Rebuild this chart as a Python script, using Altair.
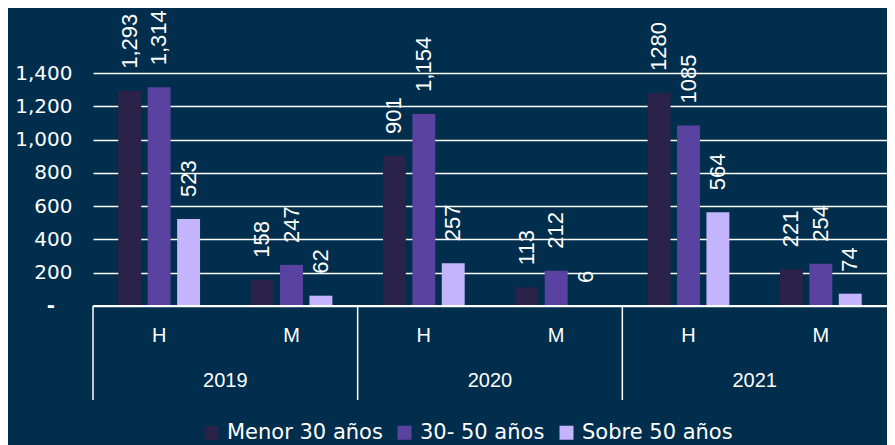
import altair as alt
import pandas as pd

years = ["2019", "2019", "2020", "2020", "2021", "2021"]
genders = ["H", "M", "H", "M", "H", "M"]
series = ["Menor 30 años", "30- 50 años", "Sobre 50 años"]
menor = [1293, 158, 901, 113, 1280, 221]
medio = [1314, 247, 1154, 212, 1085, 254]
sobre = [523, 62, 257, 6, 564, 74]
menor_lbl = ["1,293", "158", "901", "113", "1280", "221"]
medio_lbl = ["1,314", "247", "1,154", "212", "1085", "254"]
sobre_lbl = ["523", "62", "257", "6", "564", "74"]
y_ticks = [0, 200, 400, 600, 800, 1000, 1200, 1400]
zero_lbl = ["-"]
colors = ["#2a2249", "#5a42a0", "#c4b4fc"]

cats = [f"{y}-{g}" for y, g in zip(years, genders)]
rows = []
for s, vals, lbls in zip(series, [menor, medio, sobre], [menor_lbl, medio_lbl, sobre_lbl]):
    for c, g, v, l in zip(cats, genders, vals, lbls):
        rows.append({"cat": c, "genero": g, "serie": s, "valor": v, "label": l})
df = pd.DataFrame(rows)
cat_df = pd.DataFrame({"cat": cats, "genero": genders})
sep_df = pd.DataFrame({"cat": [c for c in cats if c.endswith("-H")]})
year_df = pd.DataFrame({"cat": [c for c in cats if c.endswith("-H")],
                        "anio": [y for y, g in zip(years, genders) if g == "H"]})
zero_df = pd.DataFrame({"valor": [y_ticks[0]], "label": zero_lbl})

W, H = 794, 233
xscale = alt.Scale(domain=cats, paddingInner=0, paddingOuter=0)
x = alt.X("cat:N", sort=cats, scale=xscale, axis=None)
xoff = alt.XOffset("serie:N", sort=series,
                   scale=alt.Scale(domain=series, paddingInner=0.22, paddingOuter=0.86))
y = alt.Y("valor:Q", scale=alt.Scale(domain=[0, 1400], nice=False),
          axis=alt.Axis(values=y_ticks, title=None, domain=False, ticks=False,
                        grid=True, gridColor="white", gridWidth=1.5,
                        labelOverlap=False,
                        labelColor="white", labelFont="DejaVu Sans", labelFontSize=20,
                        labelPadding=21,
                        labelExpr="datum.value == 0 ? '' : format(datum.value, ',')"))

bars = alt.Chart(df).mark_bar().encode(
    x=x, xOffset=xoff, y=y,
    color=alt.Color("serie:N", sort=series,
                    scale=alt.Scale(domain=series, range=colors),
                    legend=alt.Legend(title=None, orient="none", direction="horizontal",
                                      legendX=108, legendY=349,
                                      symbolType="square", symbolSize=196,
                                      symbolStrokeWidth=0, labelOffset=5,
                                      columnPadding=11, labelLimit=300,
                                      labelColor="white", labelFont="DejaVu Sans",
                                      labelFontSize=21)),
)

labels = alt.Chart(df).mark_text(angle=270, align="left", baseline="middle", dx=22,
                                 color="white", font="Liberation Sans", fontSize=22).encode(
    x=x, xOffset=xoff, y=y, text="label:N")

zero_text = alt.Chart(zero_df).mark_text(color="white", font="DejaVu Sans", fontSize=20,
                                         fontWeight="bold", align="center",
                                         baseline="middle").encode(
    x=alt.value(-42), y=y, text="label:N")

baseline = alt.Chart(cat_df).mark_rule(color="white", strokeWidth=2).encode(
    x=alt.value(0), x2=alt.value(W), y=alt.value(H))

seps = alt.Chart(sep_df).mark_rule(color="white", strokeWidth=1.5).encode(
    x=alt.X("cat:N", sort=cats, scale=xscale, axis=None, bandPosition=0),
    y=alt.value(H), y2=alt.value(H + 94))

gender_lbl = alt.Chart(cat_df).mark_text(color="white", font="Liberation Sans", fontSize=20,
                                          baseline="middle").encode(
    x=alt.X("cat:N", sort=cats, scale=xscale, axis=None),
    y=alt.value(H + 30), text="genero:N")

year_lbl = alt.Chart(year_df).mark_text(color="white", font="Liberation Sans", fontSize=20,
                                         baseline="middle").encode(
    x=alt.X("cat:N", sort=cats, scale=xscale, axis=None, bandPosition=1),
    y=alt.value(H + 75), text="anio:N")

chart = alt.layer(bars, labels, zero_text, baseline, seps, gender_lbl, year_lbl).properties(
    width=W, height=H,
    padding={"left": 85, "top": 65, "right": 0, "bottom": 139},
    autosize=alt.AutoSizeParams(type="none"),
    background="#012e4c",
).configure_view(stroke=None)

chart.save("out.html", embed_options={"renderer": "svg", "actions": False})
